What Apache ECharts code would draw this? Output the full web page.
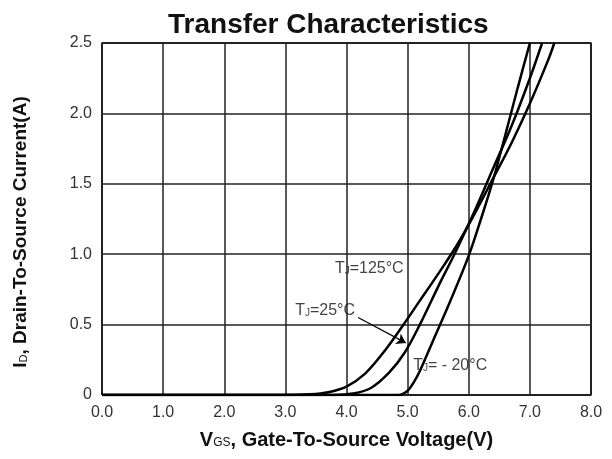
<!DOCTYPE html>
<html>
<head>
<meta charset="utf-8">
<script src="https://cdn.jsdelivr.net/npm/echarts@6/dist/echarts.min.js"></script>
<style>
  html, body { margin: 0; padding: 0; background: #fff; }
  #chart { width: 612px; height: 459px; }
</style>
</head>
<body>
<div id="chart"></div>
<script>
// 传输特性曲线数据
// TJ = 125°C
const vgsHot = [0, 3.0, 3.4, 3.7, 4.0, 4.3, 4.6, 4.9, 5.2, 5.5, 5.8, 6.1, 6.4, 6.7, 7.0, 7.3, 7.4]
const idHot  = [0, 0, 0.005, 0.02, 0.06, 0.15, 0.3, 0.48, 0.67, 0.86, 1.06, 1.29, 1.54, 1.79, 2.07, 2.38, 2.5]
// TJ = 25°C
const vgsRoom = [0, 3.8, 4.1, 4.4, 4.7, 4.95, 5.2, 5.5, 5.8, 6.1, 6.4, 6.7, 7.0, 7.2]
const idRoom  = [0, 0, 0.01, 0.05, 0.16, 0.3, 0.5, 0.77, 1.03, 1.31, 1.61, 1.91, 2.25, 2.5]
// TJ = -20°C
const vgsCold = [0, 4.85, 5.0, 5.1, 5.2, 5.4, 5.7, 6.0, 6.2, 6.4, 6.6, 6.8, 7.0]
const idCold  = [0, 0, 0.03, 0.09, 0.17, 0.37, 0.67, 0.99, 1.25, 1.53, 1.85, 2.18, 2.5]

// 标注文字位置（数据坐标）
const tagText = ['{t|T}{s|J}{t|=125°C}', '{t|T}{s|J}{t|=25°C}', '{t|T}{s|J}{t|= - 20°C}']
const tagPos = [[3.81, 0.9], [3.16, 0.6], [5.09, 0.21]]
// 箭头 (TJ=25°C)
const arrowFrom = [4.19, 0.55]
const arrowTo = [4.97, 0.37]

const zip = (xs, ys) => xs.map((x, i) => [x, ys[i]])

const chart = echarts.init(document.getElementById('chart'))

const font = '"Liberation Sans", Arial, sans-serif'
const curveStyle = { color: '#000', width: 2.5 }

const option = {
  animation: false,
  textStyle: { fontFamily: font },
  title: {
    text: 'Transfer Characteristics',
    left: 163,
    top: 6,
    textStyle: { fontSize: 28, fontWeight: 'bold', color: '#111', fontFamily: font }
  },
  grid: { left: 102, right: 21, top: 43, bottom: 64 },
  xAxis: {
    type: 'value',
    min: 0,
    max: 8,
    interval: 1,
    name: '{b|V}{sub|GS}{b|, Gate-To-Source Voltage(V)}',
    nameLocation: 'middle',
    nameGap: 35,
    nameTextStyle: {
      rich: {
        b: { fontSize: 20, fontWeight: 'bold', color: '#111', fontFamily: font },
        sub: { fontSize: 12, color: '#111', fontFamily: font, padding: [6, 0, 0, 0] }
      }
    },
    axisLine: { show: false },
    axisTick: { show: false },
    axisLabel: {
      margin: 10,
      fontSize: 16,
      color: '#333',
      formatter: v => v.toFixed(1)
    },
    splitLine: { lineStyle: { color: '#222', width: 1.5 } }
  },
  yAxis: {
    type: 'value',
    min: 0,
    max: 2.5,
    interval: 0.5,
    name: '{b|I}{sub|D}{b|, Drain-To-Source Current(A)}',
    nameLocation: 'middle',
    nameGap: 72,
    nameRotate: 90,
    nameTextStyle: {
      padding: [0, 26, 0, 0],
      rich: {
        b: { fontSize: 19, fontWeight: 'bold', color: '#111', fontFamily: font },
        sub: { fontSize: 11, color: '#111', fontFamily: font, padding: [6, 0, 0, 0] }
      }
    },
    axisLine: { show: false },
    axisTick: { show: false },
    axisLabel: {
      margin: 10,
      fontSize: 16,
      color: '#333',
      formatter: v => (v === 0 ? '0' : v.toFixed(1))
    },
    splitLine: { lineStyle: { color: '#222', width: 1.5 } }
  },
  series: [
    {
      name: 'TJ=125°C',
      type: 'line',
      data: zip(vgsHot, idHot),
      smooth: 0.35,
      showSymbol: false,
      lineStyle: curveStyle
    },
    {
      name: 'TJ=25°C',
      type: 'line',
      data: zip(vgsRoom, idRoom),
      smooth: 0.35,
      showSymbol: false,
      lineStyle: curveStyle,
      markLine: {
        silent: true,
        symbol: ['none', 'arrow'],
        symbolSize: 9,
        lineStyle: { color: '#000', width: 1.2, type: 'solid' },
        label: { show: false },
        data: [[{ coord: arrowFrom }, { coord: arrowTo }]]
      }
    },
    {
      name: 'TJ=-20°C',
      type: 'line',
      data: zip(vgsCold, idCold),
      smooth: 0.35,
      showSymbol: false,
      lineStyle: curveStyle
    },
    {
      name: 'labels',
      type: 'scatter',
      symbolSize: 0,
      silent: true,
      data: tagPos.map((p, i) => ({ value: p, label: { formatter: tagText[i] } })),
      label: {
        show: true,
        position: 'right',
        distance: 0,
        rich: {
          t: { fontSize: 16, color: '#111', fontFamily: font },
          s: { fontSize: 10, color: '#111', fontFamily: font, padding: [6, 0, 0, 0] }
        }
      }
    },
    {
      // 外框
      name: 'frame',
      type: 'line',
      data: [[0, 0], [8, 0], [8, 2.5], [0, 2.5], [0, 0]],
      showSymbol: false,
      silent: true,
      lineStyle: { color: '#222', width: 2 },
      z: 1
    }
  ]
}

chart.setOption(option)
</script>
</body>
</html>
